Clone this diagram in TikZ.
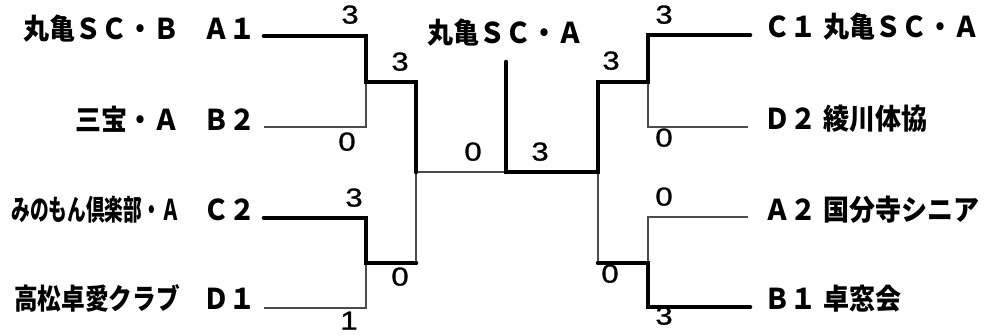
\documentclass[tikz,border=0pt]{standalone}
\usepackage{fontspec}
\setmainfont{Liberation Sans}
\newfontfamily\jp{Noto Sans CJK JP}
\newfontfamily\digits[FakeBold=1]{Liberation Sans}
\begin{document}
\begin{tikzpicture}[x=1pt,y=-1pt,
  win/.style={line width=4.6pt, line cap=round, line join=miter},
  lose/.style={line width=1.2pt, black!70},
  team/.style={font=\jp\bfseries\fontsize{26}{26}\selectfont, inner sep=0pt, text height=0.88em, text depth=0.12em},
  score/.style={font=\digits\fontsize{26}{26}\selectfont, inner sep=0pt, text height=0.72em, text depth=0pt}]
\useasboundingbox (0,0) rectangle (984,336);
\fill[white] (0,0) rectangle (984,336);

% left labels
\node[team, anchor=east] (nA1) at (180,36) {\scalebox{1}[1.1]{丸亀ＳＣ・Ｂ}};
\node[team, anchor=east] (cA1) at (256,36) {\scalebox{1}[1.1]{Ａ１}};
\node[team, anchor=east] (nB2) at (180,127) {\scalebox{1}[1.1]{三宝・Ａ}};
\node[team, anchor=east] (cB2) at (256,127) {\scalebox{1}[1.1]{Ｂ２}};
\node[team, anchor=east] (nC2) at (180,217) {\scalebox{0.72}[1.1]{みのもん倶楽部・Ａ}};
\node[team, anchor=east] (cC2) at (256,217) {\scalebox{1}[1.1]{Ｃ２}};
\node[team, anchor=east] (nD1) at (180,306) {\scalebox{0.91}[1.1]{高松卓愛クラブ}};
\node[team, anchor=east] (cD1) at (256,306) {\scalebox{1}[1.1]{Ｄ１}};

% centre
\node[team] (champ) at (505,40) {\scalebox{1}[1.1]{丸亀ＳＣ・Ａ}};

% right labels
\node[team, anchor=west] (cC1) at (764,34) {\scalebox{1}[1.1]{Ｃ１}};
\node[team, anchor=west] (nC1) at (823,34) {\scalebox{1}[1.1]{丸亀ＳＣ・Ａ}};
\node[team, anchor=west] (cD2) at (764,126) {\scalebox{1}[1.1]{Ｄ２}};
\node[team, anchor=west] (nD2) at (823,126) {\scalebox{1}[1.1]{綾川体協}};
\node[team, anchor=west] (cA2) at (764,217) {\scalebox{1}[1.1]{Ａ２}};
\node[team, anchor=west] (nA2) at (823,217) {\scalebox{1}[1.1]{国分寺シニア}};
\node[team, anchor=west] (cB1) at (764,306) {\scalebox{1}[1.1]{Ｂ１}};
\node[team, anchor=west] (nB1) at (823,306) {\scalebox{1}[1.1]{卓窓会}};

% bracket coordinates
\coordinate (a1) at (264,36);
\coordinate (b2) at (264,127);
\coordinate (c2) at (264,218);
\coordinate (d1) at (264,308);
\coordinate (ta) at (366,36);
\coordinate (tb) at (366,127);
\coordinate (tm) at (366,82);
\coordinate (lt) at (416,82);
\coordinate (bc) at (366,218);
\coordinate (bd) at (366,308);
\coordinate (bm) at (366,263);
\coordinate (lb) at (416,263);
\coordinate (lm) at (416,172);
\coordinate (ct) at (506,62);
\coordinate (cm) at (506,172);
\coordinate (rm) at (598,172);
\coordinate (rt) at (598,82);
\coordinate (rb) at (598,263);
\coordinate (rtm) at (648,82);
\coordinate (rtc) at (648,35);
\coordinate (rtd) at (648,127);
\coordinate (rbm) at (648,263);
\coordinate (rba) at (648,217);
\coordinate (rbb) at (648,307);
\coordinate (c1) at (750,35);
\coordinate (d2) at (748,127);
\coordinate (a2) at (748,217);
\coordinate (b1) at (750,307);

% thin (losing) lines
\draw[lose] (b2) -- (tb) -- (tm);
\draw[lose] (d1) -- (bd) -- (bm);
\draw[lose] (lm) -- (lb);
\draw[lose] (lm) -- (cm);
\draw[lose] (rm) -- (rb);
\draw[lose] (rtm) -- (rtd) -- (d2);
\draw[lose] (rbm) -- (rba) -- (a2);

% thick (winning) lines
\draw[win] (a1) -- (ta) -- (tm) -- (lt) -- (lm);
\draw[win] (c2) -- (bc) -- (bm) -- (lb);
\draw[win] (ct) -- (cm) -- (rm) -- (rt) -- (rtm) -- (rtc) -- (c1);
\draw[win] (rb) -- (rbm) -- (rbb) -- (b1);

% scores
\node[score] (s1) at (350,20) {\scalebox{1.2}[1]{3}};
\node[score] (s2) at (400,67) {\scalebox{1.2}[1]{3}};
\node[score] (s3) at (347,147) {\scalebox{1.2}[1]{0}};
\node[score] (s4) at (354,203) {\scalebox{1.2}[1]{3}};
\node[score] (s5) at (400,282) {\scalebox{1.2}[1]{0}};
\node[score] (s6) at (349,326) {\scalebox{1.2}[1]{1}};
\node[score] (s7) at (473,157) {\scalebox{1.2}[1]{0}};
\node[score] (s8) at (540,157) {\scalebox{1.2}[1]{3}};
\node[score] (s9) at (664,20) {\scalebox{1.2}[1]{3}};
\node[score] (s10) at (611,66) {\scalebox{1.2}[1]{3}};
\node[score] (s11) at (664,143) {\scalebox{1.2}[1]{0}};
\node[score] (s12) at (664,202) {\scalebox{1.2}[1]{0}};
\node[score] (s13) at (610,279) {\scalebox{1.2}[1]{0}};
\node[score] (s14) at (664,321) {\scalebox{1.2}[1]{3}};
\end{tikzpicture}
\end{document}
